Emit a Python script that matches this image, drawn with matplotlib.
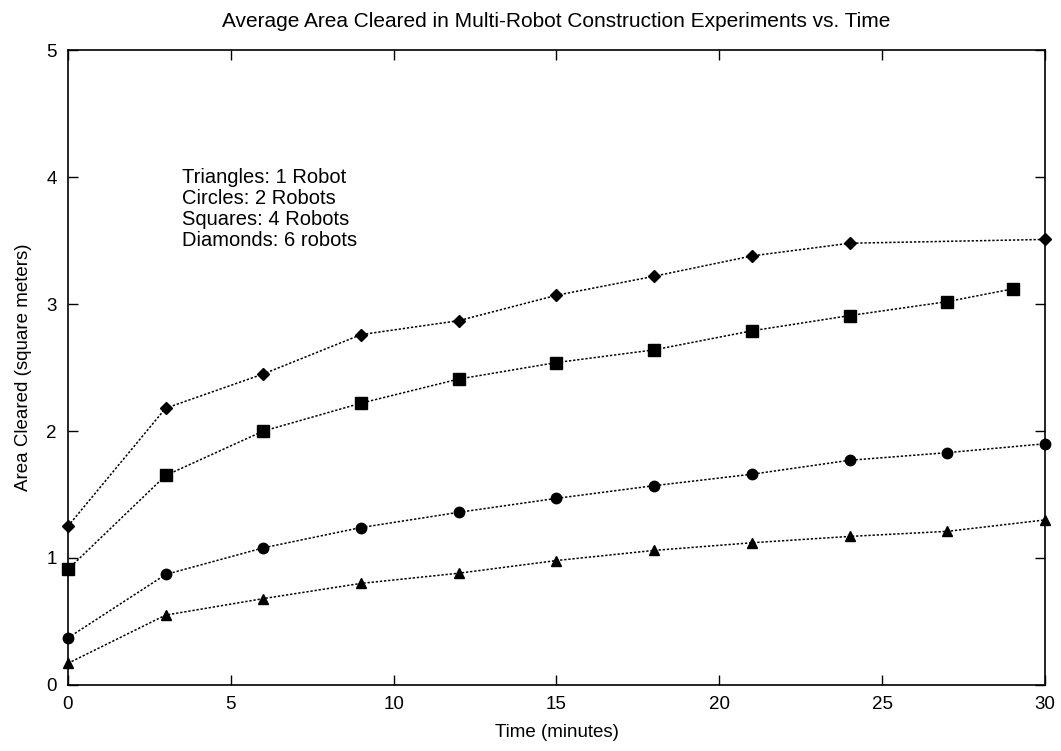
import numpy as np
import matplotlib.pyplot as plt

plt.rcParams['font.family'] = ['Liberation Sans', 'DejaVu Sans']

# time (minutes)
t_full = [0, 3, 6, 9, 12, 15, 18, 21, 24, 27, 30]
t_diam = [0, 3, 6, 9, 12, 15, 18, 21, 24, 30]
t_sq = [0, 3, 6, 9, 12, 15, 18, 21, 24, 27, 29]

# area cleared (square meters)
triangles = [0.17, 0.55, 0.68, 0.80, 0.88, 0.98, 1.06, 1.12, 1.17, 1.21, 1.30]
circles = [0.37, 0.87, 1.08, 1.24, 1.36, 1.47, 1.57, 1.66, 1.77, 1.83, 1.90]
squares = [0.91, 1.65, 2.00, 2.22, 2.41, 2.54, 2.64, 2.79, 2.91, 3.02, 3.12]
diamonds = [1.25, 2.18, 2.45, 2.76, 2.87, 3.07, 3.22, 3.38, 3.48, 3.51]

fig = plt.figure(figsize=(10.61, 7.51), dpi=100)
ax = fig.add_axes([0.064, 0.088, 0.921, 0.845])

ls = (0, (1.5, 1.2))
ax.plot(t_full, triangles, color='k', ls=ls, lw=1.1, marker='^', ms=6.5, clip_on=False)
ax.plot(t_full, circles, color='k', ls=ls, lw=1.1, marker='o', ms=7.5, clip_on=False)
ax.plot(t_sq, squares, color='k', ls=ls, lw=1.1, marker='s', ms=8, clip_on=False)
ax.plot(t_diam, diamonds, color='k', ls=ls, lw=1.1, marker='D', ms=6, clip_on=False)

ax.set_xlim(0, 30)
ax.set_ylim(0, 5)
ax.set_xticks([0, 5, 10, 15, 20, 25, 30])
ax.set_yticks([0, 1, 2, 3, 4, 5])
ax.tick_params(direction='in', length=7, width=1, top=True, right=True,
               labelsize=13.5, pad=8)
for s in ax.spines.values():
    s.set_linewidth(1.2)

ax.text(3.5, 4.07, "Triangles: 1 Robot\nCircles: 2 Robots\nSquares: 4 Robots\nDiamonds: 6 robots",
        fontsize=14.5, va='top', ha='left', linespacing=1.12)

ax.set_title("Average Area Cleared in Multi-Robot Construction Experiments vs. Time",
             fontsize=15, pad=17)
ax.set_xlabel("Time (minutes)", fontsize=13.5, labelpad=8)
ax.set_ylabel("Area Cleared (square meters)", fontsize=13.5, labelpad=10)

fig.savefig("out.png", dpi=100)
